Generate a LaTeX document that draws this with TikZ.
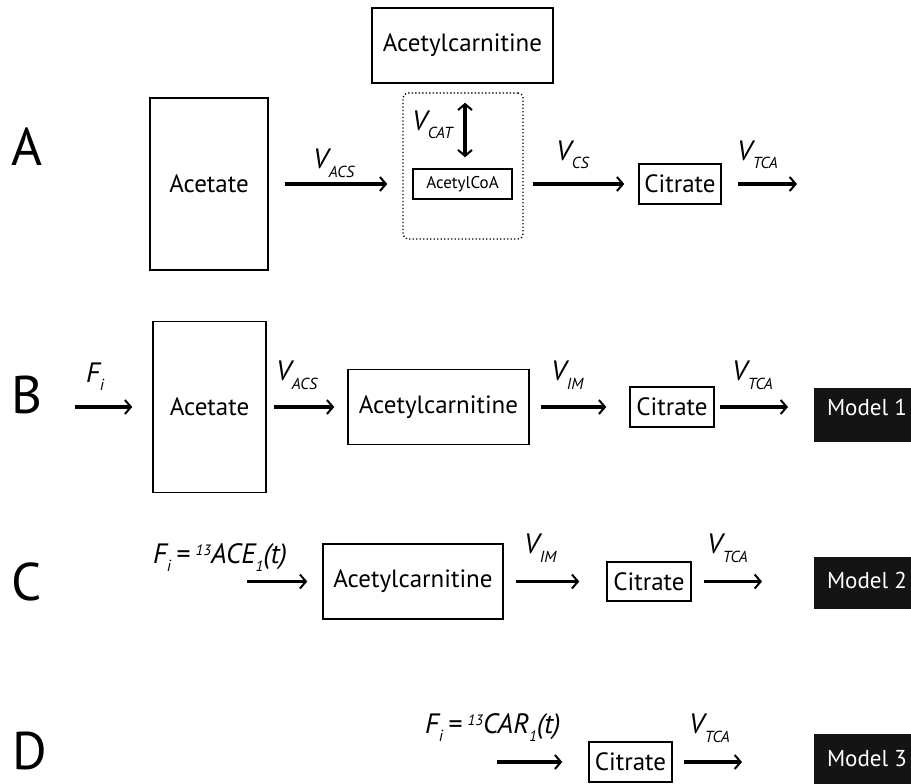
\documentclass[tikz,border=0pt]{standalone}
\usepackage{fontspec}
\setmainfont{PT Sans}
\usetikzlibrary{arrows.meta}
\newcommand\vlab[1]{{\itshape\fontsize{28}{28}\selectfont V\kern0.5pt\raisebox{-9pt}{\fontsize{16}{16}\selectfont #1}}}
\newcommand\filab[1]{{\itshape\fontsize{28}{28}\selectfont F\raisebox{-8pt}{\fontsize{16}{16}\selectfont i}\kern5pt=\kern6pt\raisebox{8pt}{\fontsize{15}{15}\selectfont 13}#1\raisebox{-8pt}{\fontsize{15}{15}\selectfont 1}(t)}}
\tikzset{
  box/.style={draw=black, line width=1.5pt, inner sep=0pt, font=\fontsize{25}{25}\selectfont},
  dotbox/.style={draw=black, line width=1.3pt, dash pattern=on 1.3pt off 2.2pt, rounded corners=5pt, inner sep=0pt},
  modbox/.style={fill=black!92, draw=none, text=white, inner sep=0pt},
  modtext/.style={inner sep=0pt, text=white, font=\fontsize{23}{23}\selectfont},
  flow/.style={line width=3.2pt, -{Straight Barb[length=6pt,width=14pt,line width=2pt 0]}},
  dflow/.style={line width=3.2pt, {Straight Barb[length=6pt,width=14pt,line width=2pt 0]}-{Straight Barb[length=6pt,width=14pt,line width=2pt 0]}},
  lab/.style={inner sep=0pt, anchor=base west},
  panel/.style={inner sep=0pt, anchor=base west, font=\fontsize{53}{53}\selectfont}
}
\begin{document}
\begin{tikzpicture}[x=1pt,y=-1pt]
\useasboundingbox (0,0) rectangle (911,784);
% Panel A
\node[panel] (pA) at (11,165) {A};
\node[box, minimum width=118pt, minimum height=172pt] (acetA) at (209,184) {Acetate};
\node[box, minimum width=181pt, minimum height=75pt] (carA) at (462.5,45.5) {Acetylcarnitine};
\node[dotbox, minimum width=120pt, minimum height=146pt] (dotA) at (463,166) {};
\node[box, minimum width=99pt, minimum height=30pt, font=\fontsize{17}{17}\selectfont] (coaA) at (462.5,184) {AcetylCoA};
\node[box, minimum width=82pt, minimum height=40pt] (citA) at (680,184) {Citrate};
\coordinate (endA) at (797,184);
\draw[flow] ([xshift=16pt]acetA.east) -- ([xshift=-25pt]coaA.west);
\draw[flow] ([xshift=20pt]coaA.east) -- ([xshift=-14pt]citA.west);
\draw[flow] ([xshift=16pt]citA.east) -- (endA);
\draw[dflow] ([xshift=2.5pt,yshift=-19pt]carA.south) -- ([xshift=2.5pt,yshift=11pt]coaA.north);
\node[lab] (lA1) at (313,168) {\vlab{ACS}};
\node[lab] (lA2) at (412,130) {\vlab{CAT}};
\node[lab] (lA3) at (556,160) {\vlab{CS}};
\node[lab] (lA4) at (737,160) {\vlab{TCA}};
% Panel B
\node[panel] (pB) at (11,413) {B};
\coordinate (startB) at (75,407);
\node[box, minimum width=113pt, minimum height=171pt] (acetB) at (209.5,407) {Acetate};
\node[box, minimum width=181pt, minimum height=75pt] (carB) at (438.5,407) {Acetylcarnitine};
\node[box, minimum width=84pt, minimum height=40pt] (citB) at (672,407) {Citrate};
\coordinate (endB) at (788,407);
\node[modbox, minimum width=106pt, minimum height=54pt] (modB) at (867,415) {};
\node[modtext] (tB) at (867,407) {Model 1};
\draw[flow] (startB) -- ([xshift=-20pt]acetB.west);
\draw[flow] ([xshift=7pt]acetB.east) -- ([xshift=-13pt]carB.west);
\draw[flow] ([xshift=11pt]carB.east) -- ([xshift=-23pt]citB.west);
\draw[flow] ([xshift=5pt]citB.east) -- (endB);
\node[lab] (lB0) at (86,382) {\itshape\fontsize{28}{28}\selectfont F\raisebox{-8pt}{\fontsize{16}{16}\selectfont i}};
\node[lab] (lB1) at (276,380) {\vlab{ACS}};
\node[lab] (lB2) at (551,380) {\vlab{IM}};
\node[lab] (lB3) at (732,380) {\vlab{TCA}};
% Panel C
\node[panel] (pC) at (11,600) {C};
\coordinate (startC) at (247,581.5);
\node[box, minimum width=180pt, minimum height=75pt] (carC) at (413,581.5) {Acetylcarnitine};
\node[box, minimum width=84pt, minimum height=39pt] (citC) at (649,581.5) {Citrate};
\coordinate (endC) at (762,581.5);
\node[modbox, minimum width=106pt, minimum height=52pt] (modC) at (867,583) {};
\node[modtext] (tC) at (867,580) {Model 2};
\draw[flow] (startC) -- ([xshift=-15pt]carC.west);
\draw[flow] ([xshift=12pt]carC.east) -- ([xshift=-27pt]citC.west);
\draw[flow] ([xshift=12pt]citC.east) -- (endC);
\node[lab] (lC0) at (153,563) {\filab{ACE}};
\node[lab] (lC1) at (524,553) {\vlab{IM}};
\node[lab] (lC2) at (707,553) {\vlab{TCA}};
% Panel D
\node[panel] (pD) at (12,769) {D};
\coordinate (startD) at (497,762);
\node[box, minimum width=83pt, minimum height=40pt] (citD) at (630.5,762) {Citrate};
\coordinate (endD) at (742,762);
\node[modbox, minimum width=106pt, minimum height=66pt] (modD) at (867,767) {};
\node[modtext] (tD) at (867,759) {Model 3};
\draw[flow] (startD) -- ([xshift=-26pt]citD.west);
\draw[flow] ([xshift=11pt]citD.east) -- (endD);
\node[lab] (lD0) at (425,733) {\filab{CAR}};
\node[lab] (lD1) at (689,733) {\vlab{TCA}};
\end{tikzpicture}
\end{document}
